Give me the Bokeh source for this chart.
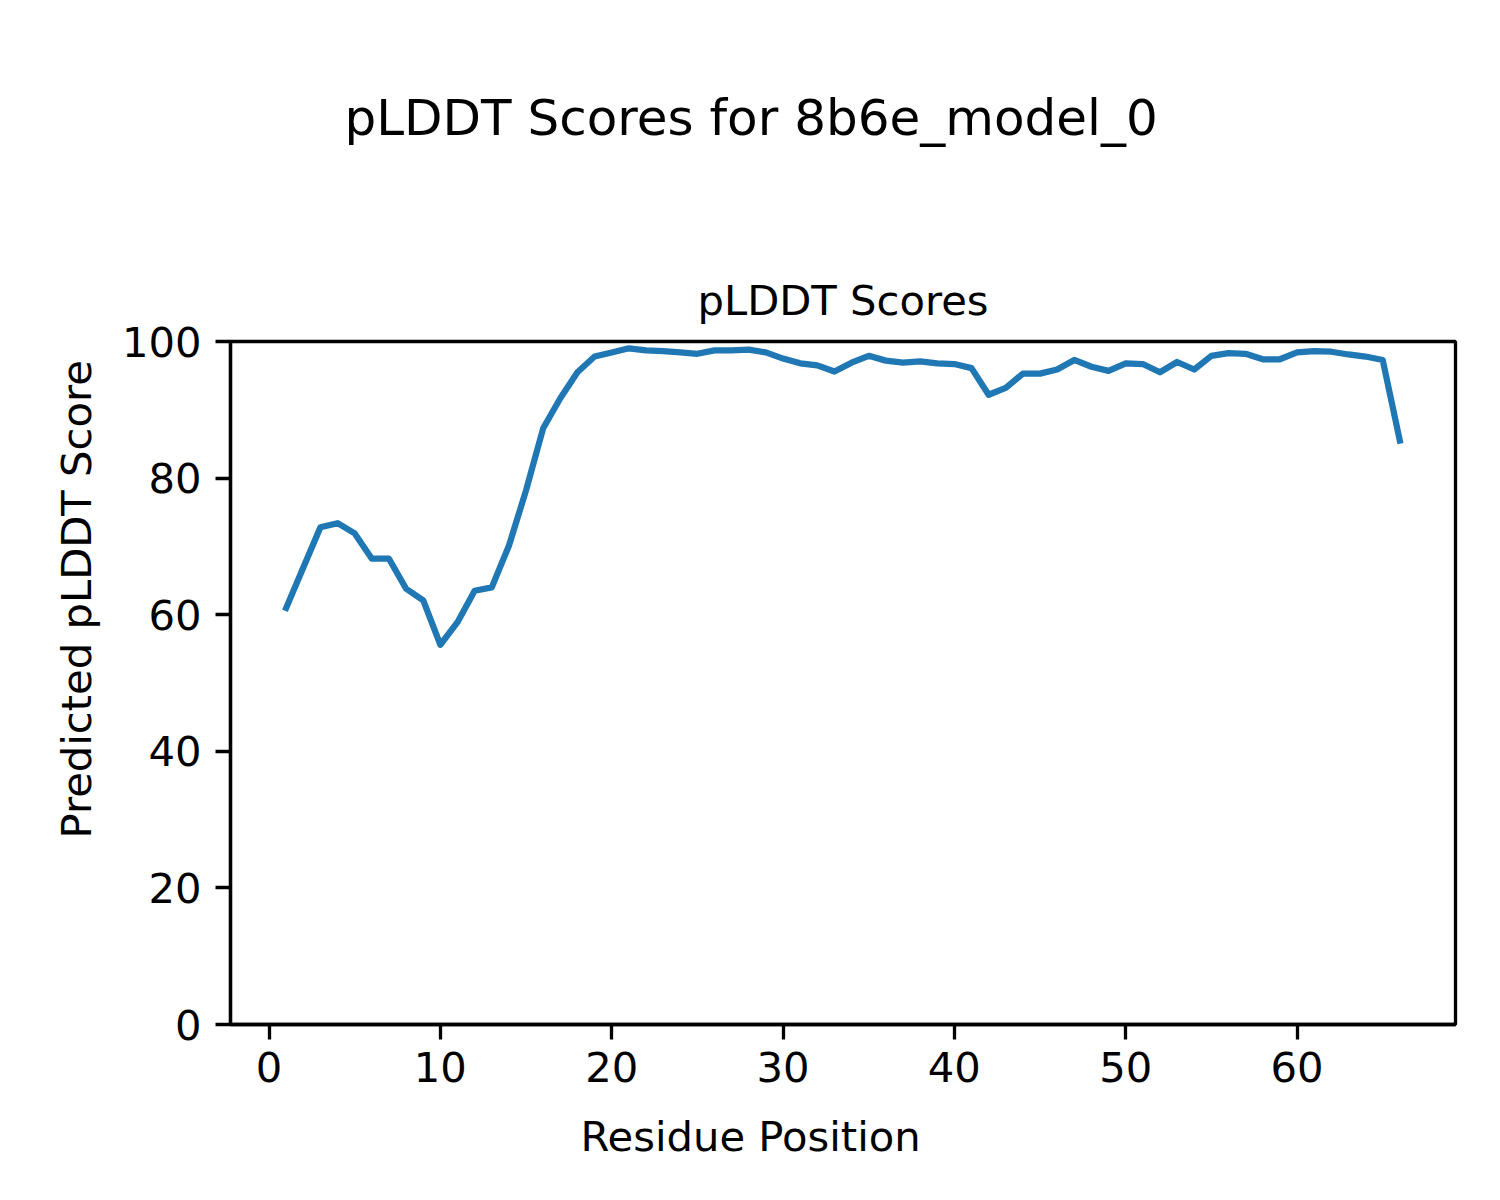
from bokeh.plotting import figure
from bokeh.models import Range1d, FixedTicker, Title
from bokeh.embed import file_html
from bokeh.resources import INLINE

residue = list(range(1, 67))
plddt = [61.0, 66.9, 72.8, 73.4, 71.9, 68.2, 68.2, 63.8, 62.1, 55.6,
         58.9, 63.5, 64.0, 70.1, 78.2, 87.3, 91.7, 95.5, 97.8, 98.4,
         99.0, 98.7, 98.6, 98.4, 98.2, 98.7, 98.7, 98.8, 98.4, 97.5,
         96.8, 96.5, 95.6, 96.9, 97.9, 97.2, 96.9, 97.1, 96.8, 96.7,
         96.1, 92.2, 93.2, 95.3, 95.3, 95.9, 97.3, 96.3, 95.7, 96.8,
         96.7, 95.5, 97.0, 95.9, 97.9, 98.3, 98.2, 97.4, 97.4, 98.4,
         98.6, 98.5, 98.1, 97.8, 97.3, 85.5]
x_ticks = [0, 10, 20, 30, 40, 50, 60]
y_ticks = [0, 20, 40, 60, 80, 100]

FONT = "DejaVu Sans"
FS = "41.7px"

p = figure(frame_width=1225, frame_height=683, output_backend="svg",
           toolbar_location=None, title=None,
           x_range=Range1d(-2.25, 69.25), y_range=Range1d(0, 100),
           min_border_left=230, min_border_right=29,
           min_border_top=341, min_border_bottom=160)
p.background_fill_color = "white"
p.border_fill_color = "white"
p.xgrid.visible = False
p.ygrid.visible = False
p.outline_line_color = "black"
p.outline_line_width = 3.3

p.line(residue, plddt, line_width=6.25, color="#1f77b4",
       line_join="round", line_cap="square")

p.xaxis.ticker = FixedTicker(ticks=x_ticks)
p.yaxis.ticker = FixedTicker(ticks=y_ticks)
for ax in (p.xaxis[0], p.yaxis[0]):
    ax.axis_line_color = "black"
    ax.axis_line_width = 3.3
    ax.major_tick_line_color = "black"
    ax.major_tick_line_width = 3.3
    ax.major_tick_out = 15
    ax.major_tick_in = 0
    ax.minor_tick_line_color = None
    ax.major_label_text_font = FONT
    ax.major_label_text_font_size = FS
    ax.major_label_text_color = "black"
p.xaxis.major_label_standoff = 12
p.yaxis.major_label_standoff = 14

# axes title (nearest the frame)
p.add_layout(Title(text="pLDDT Scores", align="center", standoff=33,
                   text_font=FONT, text_font_size=FS,
                   text_font_style="normal", text_color="black"), "above")
# blank spacer between the two titles
p.add_layout(Title(text=" ", align="center", standoff=60,
                   text_font=FONT, text_font_size=FS,
                   text_font_style="normal", text_color="white"), "above")
# figure-level title
p.add_layout(Title(text="pLDDT Scores for 8b6e_model_0", align="left",
                   offset=114, standoff=0,
                   text_font=FONT, text_font_size="50px",
                   text_font_style="normal", text_color="black"), "above")
p.add_layout(Title(text="Residue Position", align="left", offset=350,
                   standoff=51, text_font=FONT, text_font_size=FS,
                   text_font_style="normal", text_color="black"), "below")
p.add_layout(Title(text="Predicted pLDDT Score", align="left", offset=186,
                   standoff=35, text_font=FONT, text_font_size=FS,
                   text_font_style="normal", text_color="black"), "left")

open("out.html", "w").write(file_html(p, INLINE))
